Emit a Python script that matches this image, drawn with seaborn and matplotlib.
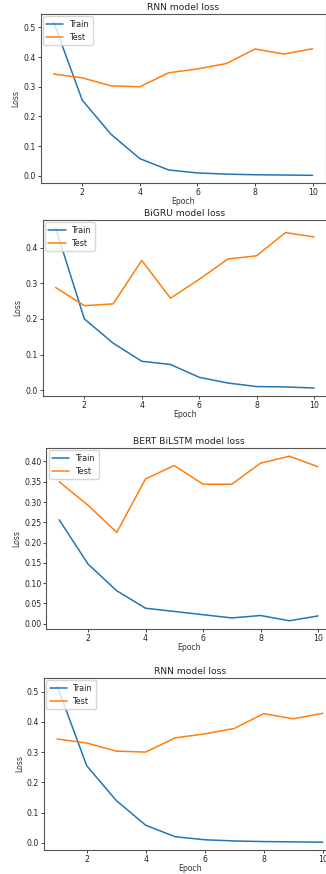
import pandas as pd
import matplotlib.pyplot as plt
import seaborn as sns

epochs = [1, 2, 3, 4, 5, 6, 7, 8, 9, 10]

rnn_train = [0.519, 0.255, 0.140, 0.058, 0.020, 0.010, 0.006, 0.004, 0.003, 0.002]
rnn_test = [0.343, 0.330, 0.303, 0.300, 0.347, 0.360, 0.378, 0.427, 0.410, 0.428]

bigru_train = [0.455, 0.200, 0.132, 0.081, 0.072, 0.036, 0.020, 0.010, 0.009, 0.006]
bigru_test = [0.288, 0.237, 0.242, 0.364, 0.258, 0.311, 0.368, 0.377, 0.442, 0.430]

bert_train = [0.256, 0.147, 0.081, 0.038, 0.030, 0.022, 0.014, 0.020, 0.007, 0.019]
bert_test = [0.350, 0.292, 0.225, 0.357, 0.390, 0.344, 0.344, 0.396, 0.413, 0.387]

titles = ['RNN model loss', 'BiGRU model loss', 'BERT BiLSTM model loss', 'RNN model loss']
series = [(rnn_train, rnn_test), (bigru_train, bigru_test),
          (bert_train, bert_test), (rnn_train, rnn_test)]

# axes boxes in pixels: left, right, top, bottom
boxes = [(40.5, 325.6, 14, 183), (42.7, 327, 220, 396),
         (46.3, 331, 448, 629), (43.9, 336, 678, 850)]

sns.set_style("ticks")
plt.rcParams['font.family'] = ['DejaVu Sans']

W, H = 326, 874
fig = plt.figure(figsize=(W / 100, H / 100), dpi=100)

for title, (train, test), (l, r, t, b) in zip(titles, series, boxes):
    ax = fig.add_axes([l / W, 1 - b / H, (r - l) / W, (b - t) / H])
    df = pd.DataFrame({'Epoch': epochs + epochs,
                       'Loss': train + test,
                       'set': ['Train'] * 10 + ['Test'] * 10})
    sns.lineplot(data=df[df['set'] == 'Train'], x='Epoch', y='Loss', ax=ax,
                 color='#1f77b4', linewidth=1.1, label='Train')
    sns.lineplot(data=df[df['set'] == 'Test'], x='Epoch', y='Loss', ax=ax,
                 color='#ff7f0e', linewidth=1.1, label='Test')
    ax.set_xticks([2, 4, 6, 8, 10])
    ax.set_title(title, fontsize=6.6, pad=3, color='#222222')
    ax.set_xlabel('Epoch', fontsize=5.6, labelpad=0, color='#333333')
    ax.set_ylabel('Loss', fontsize=5.6, labelpad=2, color='#333333')
    ax.tick_params(labelsize=5.6, length=2, width=0.6, pad=1.5, labelcolor='#222222')
    for s in ax.spines.values():
        s.set_linewidth(0.8)
        s.set_color('#555555')
    ax.legend(loc='upper left', fontsize=5.9, frameon=True, borderpad=0.4,
              handlelength=2.1, borderaxespad=0.3, fancybox=True, framealpha=0.8)

fig.savefig('out.png', dpi=100)
